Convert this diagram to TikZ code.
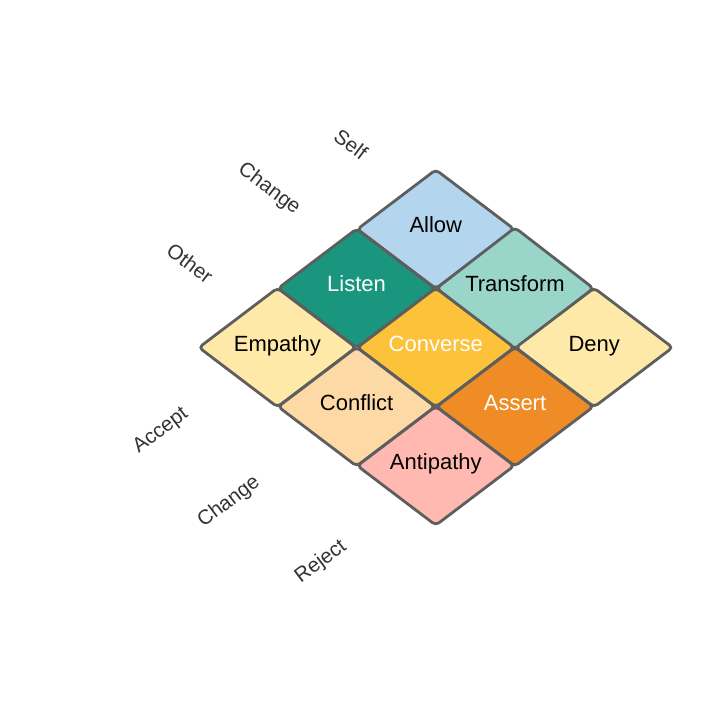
\documentclass[tikz,border=0pt]{standalone}
\usepackage{fontspec}
\setmainfont{Liberation Sans}
\usetikzlibrary{shapes.geometric}
\definecolor{edge}{HTML}{5E5E5E}
\definecolor{cAllow}{HTML}{B3D5EE}
\definecolor{cListen}{HTML}{1A967E}
\definecolor{cTransform}{HTML}{9AD5CA}
\definecolor{cYellow}{HTML}{FFE9A8}
\definecolor{cConverse}{HTML}{FBC23A}
\definecolor{cConflict}{HTML}{FDD9A6}
\definecolor{cAssert}{HTML}{EF8C25}
\definecolor{cAnti}{HTML}{FFB9B1}
\definecolor{lbl}{HTML}{333333}
\begin{document}
\begin{tikzpicture}[x=1pt,y=-1pt,
  cell/.style={diamond, draw=edge, line width=2.8pt, rounded corners=4pt,
    minimum width=158pt, minimum height=120pt, inner sep=0pt,
    text height=15pt, text depth=8pt,
    font=\fontsize{22}{26}\selectfont},
  axis/.style={text=lbl, font=\fontsize{20.5}{24}\selectfont, inner sep=0pt}]
\useasboundingbox (0,0) rectangle (716,709);
\node[cell, fill=cAllow] (allow) at (435.8,229.2) {Allow};
\node[cell, fill=cListen, text=white] (listen) at (356.6,288.3) {Listen};
\node[cell, fill=cTransform] (transform) at (515,288.3) {Transform};
\node[cell, fill=cYellow] (empathy) at (277.4,347.5) {Empathy};
\node[cell, fill=cConverse, text=white] (converse) at (435.8,347.5) {Converse};
\node[cell, fill=cYellow] (deny) at (594.2,347.5) {Deny};
\node[cell, fill=cConflict] (conflict) at (356.6,406.7) {Conflict};
\node[cell, fill=cAssert, text=white] (assert) at (515,406.7) {Assert};
\node[cell, fill=cAnti] (antipathy) at (435.8,465.8) {Antipathy};
\node[axis, rotate=-37] (self) at (351,144) {Self};
\node[axis, rotate=-37] (change1) at (269,189) {Change};
\node[axis, rotate=-37] (other) at (190,263) {Other};
\node[axis, rotate=37] (accept) at (161,431) {Accept};
\node[axis, rotate=37] (change2) at (229,502) {Change};
\node[axis, rotate=37] (reject) at (321,562) {Reject};
\end{tikzpicture}
\end{document}
